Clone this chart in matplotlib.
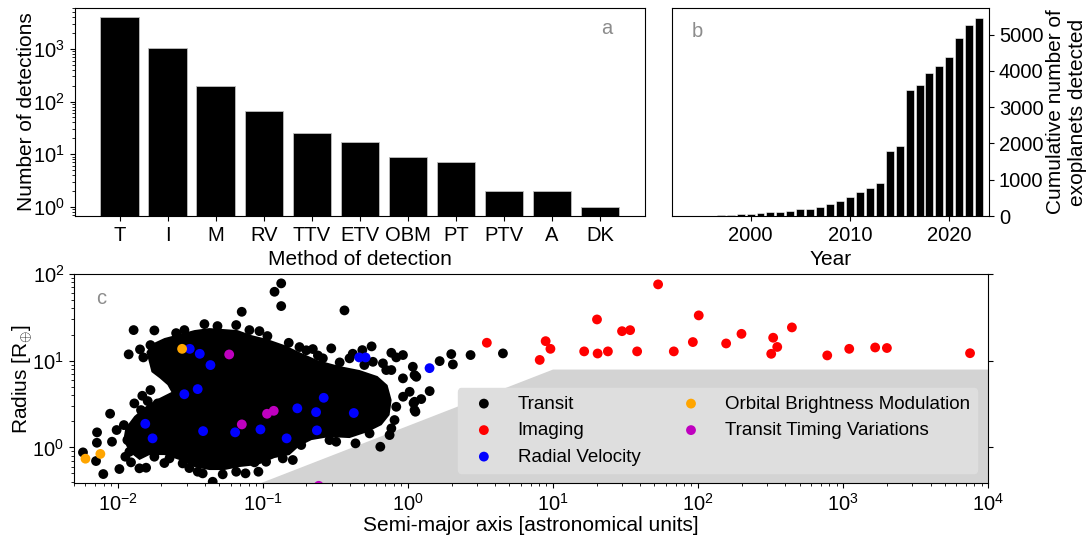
"""Exoplanet detections: methods, cumulative count per year, radius vs semi-major axis."""

import matplotlib

matplotlib.use("Agg")
import matplotlib.pyplot as plt
import numpy as np

plt.rcParams["font.family"] = ["Liberation Sans", "DejaVu Sans"]
plt.rcParams["font.size"] = 14.5
plt.rcParams["axes.labelsize"] = 15
plt.rcParams["legend.fontsize"] = 13.5
plt.rcParams["mathtext.fontset"] = "custom"
plt.rcParams["mathtext.rm"] = "Liberation Sans"
plt.rcParams["mathtext.it"] = "Liberation Sans:italic"
plt.rcParams["mathtext.bf"] = "Liberation Sans:bold"

# --- panel a: detections per method
methods = ["T", "I", "M", "RV", "TTV", "ETV", "OBM", "PT", "PTV", "A", "DK"]
method_counts = [3980, 1030, 195, 67, 25, 17, 9, 7, 2, 2, 1]

# --- panel b: cumulative detections per year
years = list(range(1992, 2024))
cumulative = [3, 4, 5, 6, 12, 18, 27, 46, 64, 82, 101, 119, 147, 183, 201, 256,
              320, 403, 513, 650, 778, 916, 1786, 1941, 3462, 3617, 3947, 4130,
              4368, 4899, 5266, 5458]

# --- panel c: radius [R_earth] vs semi-major axis [AU]
imaging_a = [3.5, 8.9, 9.6, 8.1, 16.4, 20.1, 20.3, 23.9, 29.9, 34.0, 38, 53, 68,
             92, 101, 156, 199, 329, 351, 319, 443, 776, 1100, 1660, 2000, 7480]
imaging_r = [16.1, 16.8, 13.7, 10.2, 12.8, 29.9, 12.1, 12.8, 21.9, 22.5, 12.8, 75.9,
             12.8, 16.4, 33.3, 15.8, 20.4, 18.4, 14.4, 12.0, 24.2, 11.5, 13.7, 14.2,
             14.0, 12.2]

rv_a = [0.0314, 0.0368, 0.0436, 0.462, 0.511, 1.41, 0.0288, 0.0356, 0.0155, 0.0174,
        0.0388, 0.0645, 0.0964, 0.146, 0.173, 0.233, 0.263, 0.236, 0.424]
rv_r = [13.7, 12.0, 8.9, 10.9, 10.9, 8.2, 4.1, 4.7, 1.87, 1.27, 1.54, 1.49, 1.61,
        1.27, 2.82, 2.55, 3.73, 1.57, 2.49]

obm_a = [0.0278, 0.0060, 0.0076]
obm_r = [13.7, 0.74, 0.84]

ttv_a = [0.0587, 0.0717, 0.107, 0.119, 0.243]
ttv_r = [11.8, 1.84, 2.44, 2.64, 0.36]

# transit planets outside the dense core, as log10 values
transit_log_a = [
    -1.890, -1.747, -1.597, -1.145, -0.873, -0.919, -0.873, -0.437, -1.023, -1.092,
    -1.924, -1.846, -1.823, -1.774, -1.650, -0.821, -0.655, -0.528, -0.250, -0.314,
    -0.114, -0.080, -0.034, 0.034, 0.046, 0.219, 0.299, 0.310, 0.432, 0.655,
    -0.034, -0.114, 0.058, 0.150, 0.092, 0.046, 0.046, 0.012, -0.080, -0.092,
    -0.114, -0.126, -0.190, -0.264, -0.361, -0.494, -0.540, -0.735, -0.793, -0.862,
    -0.977, -1.057, -1.030, -1.119, -1.183, -1.276, -1.345, -1.414, -1.448, -1.552,
    -1.643, -1.747, -1.804, -1.850, -1.908, -1.919, -1.988, -2.099, -2.149, -2.239,
    -2.039, -2.142, -2.143, -2.007, -2.052, -1.957, -1.947, -1.885, -1.830, -1.793,
    -1.839, -1.774, -1.724, -1.643, -1.597, -1.517, -1.459, -0.586, -0.402, -0.241,
    -0.172, -0.149, -0.540, -0.033, 0.039, 0.052, -1.183, -1.540, -1.402, -1.312,
    -0.968, -0.747, -1.933, -1.506, -1.678, -0.700, -0.470, -0.300, -0.620, -0.380,
    -1.700, -1.600, -1.480,
]
transit_log_r = [
    1.353, 1.349, 1.318, 1.564, 1.892, 1.795, 1.630, 1.580, 1.341, 1.353,
    1.073, 1.130, 1.038, 1.180, 0.822, 1.206, 1.134, 1.142, 1.165, 1.122,
    1.091, 1.038, 1.065, 0.930, 0.834, 0.995, 1.076, 0.957, 1.065, 1.084,
    0.796, 0.892, 0.814, 0.649, 0.557, 0.526, 0.430, 0.641, 0.468, 0.315,
    0.219, 0.142, 0.007, 0.161, 0.046, 0.065, 0.084, 0.027, -0.146, -0.127,
    -0.166, -0.173, -0.281, -0.300, -0.281, -0.311, -0.397, -0.300, -0.281, -0.185,
    -0.127, -0.108, -0.235, -0.242, -0.173, -0.051, -0.250, -0.308, -0.158, -0.058,
    0.065, 0.173, 0.053, 0.200, 0.388, 0.257, -0.108, 0.507, 0.595, 0.534,
    0.430, 0.661, 0.507, 0.526, 0.719, 0.765, 0.796, 1.027, 1.027, 0.987,
    0.969, 0.892, 0.892, 0.584, 0.511, 0.411, 1.411, 1.353, 1.422, 1.399,
    1.284, 1.157, 0.084, -0.239, -0.181, 1.120, 0.980, 0.950, 1.060, 1.080,
    0.880, 0.830, 0.820,
]

# outline of the dense, fully overlapping transit core (log10 values)
core_log_a = [-1.802, -1.768, -1.678, -1.574, -1.471, -1.368, -1.264, -1.174, -1.078,
              -0.968, -0.850, -0.747, -0.623, -0.471, -0.333, -0.209, -0.140, -0.112,
              -0.126, -0.181, -0.278, -0.402, -0.540, -0.664, -0.747, -0.816, -0.919,
              -1.037, -1.161, -1.264, -1.368, -1.471, -1.574, -1.678, -1.781, -1.850,
              -1.919, -1.961, -1.947, -1.885, -1.795, -1.712, -1.630, -1.657, -1.712,
              -1.767, -1.781]
core_log_r = [1.099, 1.191, 1.261, 1.307, 1.353, 1.376, 1.364, 1.353, 1.295, 1.249,
              1.180, 1.099, 1.007, 0.938, 0.892, 0.822, 0.719, 0.546, 0.373, 0.257,
              0.176, 0.107, 0.119, 0.084, 0.015, -0.089, -0.123, -0.204, -0.227,
              -0.262, -0.262, -0.227, -0.146, -0.089, -0.089, -0.146, -0.054, 0.084,
              0.223, 0.361, 0.488, 0.569, 0.638, 0.719, 0.799, 0.869, 0.961]

# shaded region in panel c
shade_a = [0.0964, 10.0, 1e4, 1e4]
shade_r = [0.385, 7.9, 7.9, 0.385]

PANEL_GRAY = "0.55"


def panel_a(ax):
    x = np.arange(len(methods))
    ax.bar(x, method_counts, width=0.8, color="black", edgecolor="0.75", linewidth=0.6)
    ax.set_yscale("log")
    ax.set_ylim(0.665, 6000)
    ax.set_xticks(x)
    ax.set_xticklabels(methods)
    ax.set_xlabel("Method of detection")
    ax.set_ylabel("Number of detections", labelpad=-2)
    ax.text(0.933, 0.90, "a", transform=ax.transAxes, color=PANEL_GRAY,
            ha="center", va="center")


def panel_b(ax):
    ax.bar(years, cumulative, width=0.8, color="black", edgecolor="white", linewidth=0.4)
    ax.set_xlim(1992.1, 2024.0)
    ax.set_xticks([2000, 2010, 2020])
    ax.set_yticks(range(0, 6000, 1000))
    ax.yaxis.tick_right()
    ax.yaxis.set_label_position("right")
    ax.set_xlabel("Year")
    ax.set_ylabel("Cumulative number of\nexoplanets detected", labelpad=2)
    ax.text(0.079, 0.885, "b", transform=ax.transAxes, color=PANEL_GRAY,
            ha="center", va="center")


def panel_c(ax):
    ax.fill(shade_a, shade_r, color="lightgray", lw=0, zorder=1)
    ax.fill(10 ** np.array(core_log_a), 10 ** np.array(core_log_r),
            color="black", lw=0, zorder=2)
    kw = dict(s=50, edgecolors="none", zorder=3)
    ax.scatter(10 ** np.array(transit_log_a), 10 ** np.array(transit_log_r),
               color="black", label="Transit", **kw)
    ax.scatter(imaging_a, imaging_r, color="red", label="Imaging", **kw)
    ax.scatter(rv_a, rv_r, color="blue", label="Radial Velocity", **kw)
    ax.scatter(obm_a, obm_r, color="orange", label="Orbital Brightness Modulation", **kw)
    ax.scatter(ttv_a, ttv_r, color="m", label="Transit Timing Variations", **kw)
    ax.set_xscale("log")
    ax.set_yscale("log")
    ax.set_xlim(0.005, 1e4)
    ax.set_ylim(0.385, 100)
    ax.tick_params(axis="y", which="major", right=True)
    ax.set_xlabel("Semi-major axis [astronomical units]", labelpad=1)
    ax.set_ylabel(r"Radius [R$_{\oplus}$]", labelpad=-2)
    ax.text(0.0295, 0.885, "c", transform=ax.transAxes, color=PANEL_GRAY,
            ha="center", va="center")
    leg = ax.legend(ncol=2, loc="lower right", bbox_to_anchor=(0.988, 0.049),
                    borderaxespad=0, columnspacing=1.7, facecolor="#dedede",
                    edgecolor="#dedede", framealpha=1)
    leg.set_zorder(5)


def main():
    fig = plt.figure(figsize=(10.91, 5.38), dpi=100)
    ax_a = fig.add_axes([0.0683, 0.5985, 0.5229, 0.3866])
    ax_b = fig.add_axes([0.616, 0.5985, 0.2906, 0.3866])
    ax_c = fig.add_axes([0.0678, 0.1017, 0.8381, 0.389])
    panel_a(ax_a)
    panel_b(ax_b)
    panel_c(ax_c)
    fig.savefig("out.png", dpi=100)
    plt.close(fig)


if __name__ == "__main__":
    main()
